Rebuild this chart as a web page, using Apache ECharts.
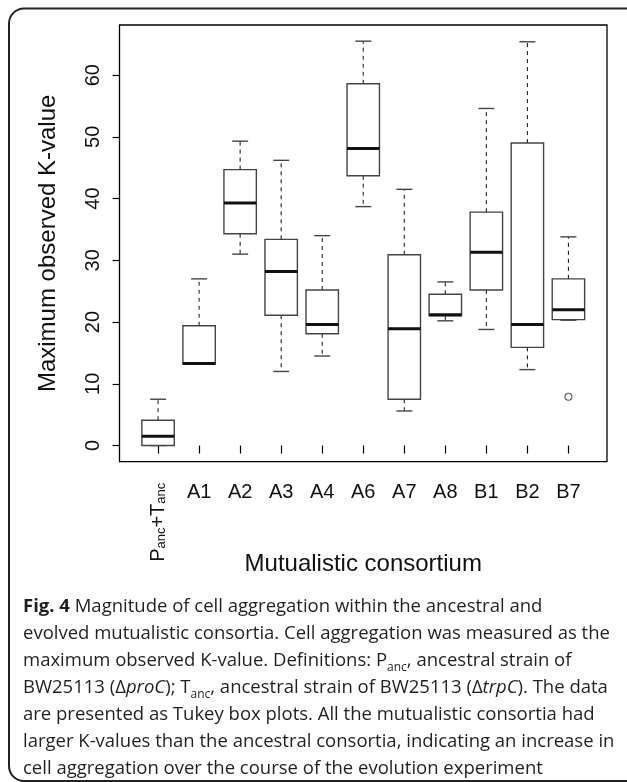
<!DOCTYPE html>
<html>
<head>
<meta charset="utf-8">
<script src="https://cdn.jsdelivr.net/npm/echarts@6/dist/echarts.min.js"></script>
<style>
html,body{margin:0;padding:0;background:#fff;}
#c{width:627px;height:782px;}
</style>
</head>
<body>
<div id="c"></div>
<script>
// ---- data ----
const categories = ['P_anc+T_anc','A1','A2','A3','A4','A6','A7','A8','B1','B2','B7'];
const whiskerLow  = [0.0, 13.2, 31.0, 12.0, 14.5, 38.7,  5.6, 20.2, 18.8, 12.3, 20.3];
const quartile1   = [0.0, 13.2, 34.3, 21.1, 18.1, 43.7,  7.5, 21.0, 25.2, 15.9, 20.4];
const median      = [1.5, 13.3, 39.3, 28.2, 19.6, 48.1, 18.9, 21.2, 31.3, 19.6, 22.0];
const quartile3   = [4.1, 19.4, 44.7, 33.4, 25.2, 58.6, 30.9, 24.5, 37.8, 49.0, 27.0];
const whiskerHigh = [7.5, 27.0, 49.3, 46.2, 34.0, 65.5, 41.5, 26.5, 54.6, 65.4, 33.8];
const outlierCategory = ['B7'];
const outlierValue = [7.9];
const yTicks = [0, 10, 20, 30, 40, 50, 60];
const yTitle = 'Maximum observed K-value';
const xTitle = 'Mutualistic consortium';
const captionLines = [
  '{b|Fig. 4} Magnitude of cell aggregation within the ancestral and',
  'evolved mutualistic consortia. Cell aggregation was measured as the',
  'maximum observed K-value. Definitions: P{s|anc}, ancestral strain of',
  'BW25113 (Δ{i|proC}); T{s|anc}, ancestral strain of BW25113 (Δ{i|trpC}). The data',
  'are presented as Tukey box plots. All the mutualistic consortia had',
  'larger K-values than the ancestral consortia, indicating an increase in',
  'cell aggregation over the course of the evolution experiment'
];

// ---- build ----
const positions = categories.map((c, i) => i + 1);
const boxData = categories.map((c, i) => [i + 1, whiskerLow[i], quartile1[i], median[i], quartile3[i], whiskerHigh[i]]);
const outlierData = outlierCategory.map((c, i) => [categories.indexOf(c) + 1, outlierValue[i]]);

const AX_FONT = '"Liberation Sans", Arial, Helvetica, sans-serif';
const CAP_FONT = '"Open Sans", sans-serif';
const CAP_SIZE = 18.5;
const BOX_W = 0.79, CAP_W = 0.39;

function renderBox(params, api) {
  const x = api.value(0);
  const lo = api.coord([x, api.value(1)]);
  const q1 = api.coord([x, api.value(2)]);
  const md = api.coord([x, api.value(3)]);
  const q3 = api.coord([x, api.value(4)]);
  const hi = api.coord([x, api.value(5)]);
  const bw = api.size([BOX_W, 0])[0];
  const cw = api.size([CAP_W, 0])[0];
  const cx = md[0];
  const boxStroke = {stroke: '#444', lineWidth: 1.4, fill: null};
  const dash = {stroke: '#222', lineWidth: 1.1, lineDash: [4, 4]};
  return {
    type: 'group',
    children: [
      {type: 'line', shape: {x1: cx, y1: q3[1], x2: cx, y2: hi[1]}, style: dash},
      {type: 'line', shape: {x1: cx, y1: q1[1], x2: cx, y2: lo[1]}, style: dash},
      {type: 'line', shape: {x1: cx - cw / 2, y1: hi[1], x2: cx + cw / 2, y2: hi[1]}, style: boxStroke},
      {type: 'line', shape: {x1: cx - cw / 2, y1: lo[1], x2: cx + cw / 2, y2: lo[1]}, style: boxStroke},
      {type: 'rect', shape: {x: cx - bw / 2, y: q3[1], width: bw, height: q1[1] - q3[1]}, style: {stroke: '#444', lineWidth: 1.4, fill: '#fff'}},
      {type: 'line', shape: {x1: cx - bw / 2, y1: md[1], x2: cx + bw / 2, y2: md[1]}, style: {stroke: '#111', lineWidth: 3}}
    ]
  };
}

const chart = echarts.init(document.getElementById('c'), null, {renderer: 'canvas'});
chart.setOption({
  animation: false,
  backgroundColor: '#fff',
  grid: {
    left: 119.5, top: 25, right: 20, bottom: 320.3,
    show: true, borderColor: '#000', borderWidth: 1.3, backgroundColor: 'transparent',
    containLabel: false, outerBoundsMode: 'none'
  },
  xAxis: [
    {
      type: 'value', min: 0.06, max: 11.94,
      splitLine: {show: false}, axisLine: {show: false},
      axisTick: {show: true, length: 8, customValues: positions, lineStyle: {color: '#000', width: 1.2}},
      axisLabel: {
        show: true, margin: 21, fontFamily: AX_FONT, fontSize: 20, color: '#111',
        customValues: positions.slice(1),
        formatter: v => categories[Math.round(v) - 1]
      },
      name: xTitle, nameLocation: 'middle', nameGap: 91, nameMoveOverlap: false,
      nameTextStyle: {fontFamily: AX_FONT, fontSize: 24, color: '#111', verticalAlign: 'top'}
    },
    {
      type: 'value', min: 0.06, max: 11.94, position: 'bottom',
      splitLine: {show: false}, axisLine: {show: false}, axisTick: {show: false},
      axisLabel: {
        show: true, margin: 21, rotate: 90, fontFamily: AX_FONT, fontSize: 20, color: '#111',
        customValues: [1],
        formatter: () => 'P{s|anc}+T{s|anc}',
        rich: {s: {fontFamily: AX_FONT, fontSize: 13, verticalAlign: 'bottom', color: '#111', padding: [6, 0, 0, 0]}}
      }
    }
  ],
  yAxis: {
    type: 'value', min: -2.62, max: 68.12,
    splitLine: {show: false}, axisLine: {show: false},
    axisTick: {show: true, length: 7, customValues: yTicks, lineStyle: {color: '#000', width: 1.2}},
    axisLabel: {show: true, rotate: 90, margin: 16, fontFamily: AX_FONT, fontSize: 20, color: '#111', customValues: yTicks},
    name: yTitle, nameLocation: 'middle', nameRotate: 90, nameGap: 59, nameMoveOverlap: false,
    nameTextStyle: {fontFamily: AX_FONT, fontSize: 24, color: '#111'}
  },
  series: [
    {type: 'custom', xAxisIndex: 0, yAxisIndex: 0, renderItem: renderBox, data: boxData, encode: {x: 0, y: [1, 2, 3, 4, 5]}, z: 3},
    {type: 'scatter', xAxisIndex: 0, yAxisIndex: 0, data: outlierData, symbol: 'circle', symbolSize: 7,
     itemStyle: {color: '#fff', borderColor: '#333', borderWidth: 1.1}, z: 4}
  ],
  graphic: [
    {type: 'rect', silent: true, z: -10, shape: {x: 9, y: 8.5, width: 640, height: 772.5, r: 15},
     style: {fill: 'none', stroke: '#222', lineWidth: 2}},
    {type: 'text', silent: true, left: 23, top: 593,
     style: {
       text: captionLines.join('\n'), fontFamily: CAP_FONT, fontSize: CAP_SIZE, lineHeight: 27, fill: '#231f20',
       rich: {
         b: {fontFamily: CAP_FONT, fontSize: CAP_SIZE, fontWeight: 'bold', lineHeight: 27, fill: '#231f20'},
         i: {fontFamily: CAP_FONT, fontSize: CAP_SIZE, fontStyle: 'italic', lineHeight: 27, fill: '#231f20'},
         s: {fontFamily: CAP_FONT, fontSize: 12, lineHeight: 14, verticalAlign: 'bottom', fill: '#231f20'}
       }
     }}
  ]
});
</script>
</body>
</html>
